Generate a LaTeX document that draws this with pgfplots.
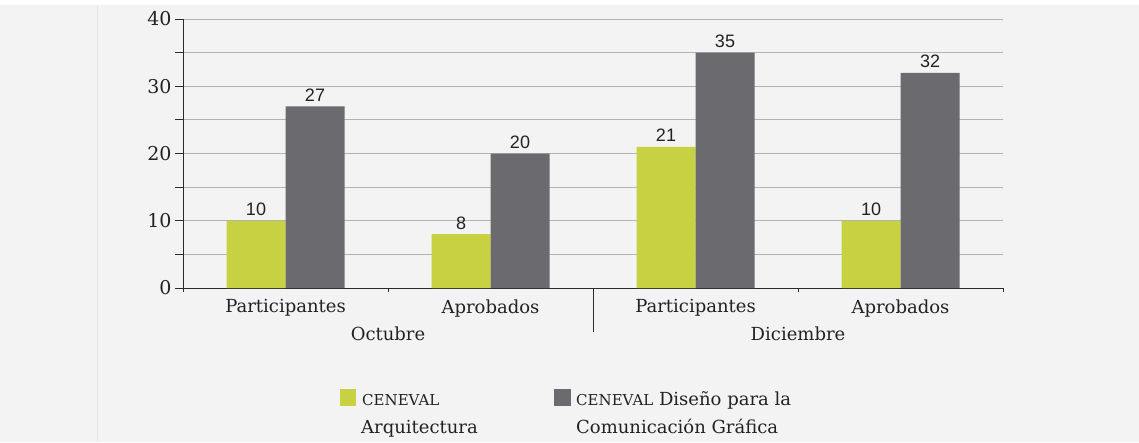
\documentclass[border=0pt]{standalone}
\usepackage{fontspec}
\setmainfont{DejaVu Serif}
\newfontfamily\numfont{Liberation Sans}
\usepackage{pgfplots}
\pgfplotsset{compat=1.18}
\definecolor{bgc}{HTML}{F3F3F3}
\definecolor{sepc}{HTML}{E4E4E4}
\definecolor{grn}{HTML}{C8D141}
\definecolor{gry}{HTML}{6B6B6F}
\definecolor{gridc}{HTML}{B3B3B3}
\definecolor{axc}{HTML}{2A2A2A}
\definecolor{txt}{HTML}{222222}
\begin{document}
\begin{tikzpicture}
\useasboundingbox (0pt,0pt) rectangle (1139pt,442pt);
\fill[bgc] (0pt,0pt) rectangle (1139pt,437pt);
\draw[sepc, line width=1pt] (97pt,0pt) -- (97pt,437pt);
\begin{axis}[
  at={(183pt,154pt)}, anchor=south west,
  scale only axis, width=820pt, height=269pt,
  xmin=-0.5, xmax=3.5, ymin=0, ymax=40,
  ybar=0pt, bar width=59pt,
  axis x line*=bottom, axis y line*=left,
  axis line style={axc, line width=1pt},
  ytick={0,10,20,30,40}, minor ytick={5,15,25,35},
  ymajorgrids, yminorgrids,
  major grid style={gridc, line width=0.9pt},
  minor grid style={gridc, line width=0.9pt},
  tick align=outside, major tick length=8pt, minor tick length=8pt,
  tick style={axc, line width=1pt},
  xtick={0,1,2,3},
  xticklabels={Participantes, Aprobados, Participantes, Aprobados},
  xtick style={draw=none},
  extra x ticks={-0.5,0.5,1.5,2.5,3.5},
  extra x tick labels={},
  extra x tick style={major tick length=4pt, xtick style={draw=axc, line width=1pt}},
  /pgf/number format/assume math mode=true,
  yticklabel style={font=\fontsize{19}{20}\selectfont, text=txt},
  xticklabel style={font=\fontsize{18}{20}\selectfont, text=txt},
  nodes near coords,
  every node near coord/.append style={font=\numfont\fontsize{18}{20}\selectfont, text=txt, anchor=base, yshift=5pt, inner sep=0pt},
  clip=false,
]
\addplot[fill=grn, draw=none] coordinates {(0,10) (1,8) (2,21) (3,10)};
\addplot[fill=gry, draw=none] coordinates {(0,27) (1,20) (2,35) (3,32)};
\draw[axc, line width=1pt] (axis cs:1.5,0) -- ++(0pt,-44pt);
\node[font=\fontsize{18}{20}\selectfont, text=txt, anchor=base] at ([yshift=-52.7pt]axis cs:0.5,0) {Octubre};
\node[font=\fontsize{18}{20}\selectfont, text=txt, anchor=base] at ([yshift=-52.7pt]axis cs:2.5,0) {Diciembre};
\end{axis}
% legend
\fill[grn] (340pt,36.3pt) rectangle (356pt,53pt);
\node[anchor=base west, inner sep=0pt, text=txt, font=\fontsize{15}{16}\selectfont] at (362pt,37pt) {CENEVAL};
\node[anchor=base west, inner sep=0pt, text=txt, font=\fontsize{18}{20}\selectfont] at (361pt,9pt) {Arquitectura};
\fill[gry] (554pt,36.3pt) rectangle (571pt,53pt);
\node[anchor=base west, inner sep=0pt, text=txt, font=\fontsize{18}{20}\selectfont] at (576pt,37pt) {{\fontsize{15}{16}\selectfont CENEVAL} Diseño para la};
\node[anchor=base west, inner sep=0pt, text=txt, font=\fontsize{18}{20}\selectfont] at (576pt,9pt) {Comunicación Gráfica};
\end{tikzpicture}
\end{document}
